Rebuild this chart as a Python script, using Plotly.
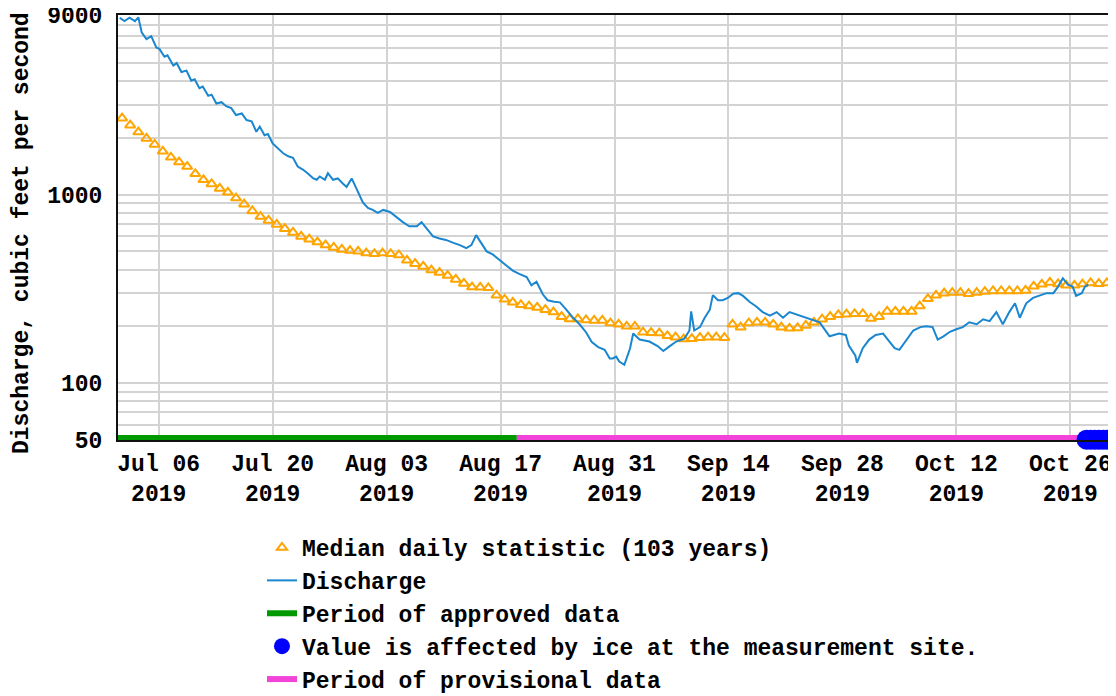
import math
import pandas as pd
import plotly.graph_objects as go

# ---------------- DATA ----------------
# Median daily statistic (103 years), one value per day starting 2019-07-01 (plotted at noon)
median_first_day = "2019-07-01 12:00"
median_cfs = [
    2550, 2340, 2150, 1990, 1850, 1700, 1580, 1490, 1410, 1290,
    1200, 1140, 1080, 1030, 960, 890, 820, 765, 730, 695,
    660, 630, 600, 580, 560, 540, 525, 512, 505, 500,
    490, 485, 490, 485, 478, 448, 430, 416, 398, 386,
    372, 355, 338, 323, 322, 320, 292, 278, 268, 260,
    256, 252, 245, 238, 225, 219, 219, 216, 215, 215,
    208, 205, 200, 200, 186, 185, 184, 178, 175, 171,
    172, 174, 175, 175, 174, 205, 198, 208, 210, 210,
    205, 198, 195, 196, 202, 210, 218, 225, 230, 232,
    233, 233, 220, 225, 240, 240, 240, 240, 256, 280,
    292, 300, 302, 302, 298, 302, 306, 308, 308, 308,
    308, 310, 326, 334, 342, 336, 330, 330, 335, 340,
    337, 340,
]
median_dates = pd.date_range(median_first_day, periods=len(median_cfs), freq="D")

# Discharge (cubic feet per second)
discharge_time = [
    "2019-07-01 05:00", "2019-07-01 19:00", "2019-07-02 10:00", "2019-07-03 02:00",
    "2019-07-03 12:00", "2019-07-03 22:00", "2019-07-04 12:00", "2019-07-05 02:00",
    "2019-07-05 17:00", "2019-07-06 02:00", "2019-07-06 17:00", "2019-07-07 02:00",
    "2019-07-07 19:00", "2019-07-08 05:00", "2019-07-08 19:00", "2019-07-09 10:00",
    "2019-07-10 00:00", "2019-07-10 10:00", "2019-07-11 00:00", "2019-07-11 10:00",
    "2019-07-12 02:00", "2019-07-12 12:00", "2019-07-13 02:00", "2019-07-13 17:00",
    "2019-07-14 07:00", "2019-07-14 22:00", "2019-07-15 12:00", "2019-07-16 05:00",
    "2019-07-16 19:00", "2019-07-17 10:00", "2019-07-18 00:00", "2019-07-18 10:00",
    "2019-07-19 00:00", "2019-07-19 10:00", "2019-07-20 00:00", "2019-07-20 17:00",
    "2019-07-21 07:00", "2019-07-21 22:00", "2019-07-22 12:00", "2019-07-23 02:00",
    "2019-07-23 17:00", "2019-07-24 07:00", "2019-07-25 00:00", "2019-07-25 10:00",
    "2019-07-25 19:00", "2019-07-26 10:00", "2019-07-26 19:00", "2019-07-27 10:00",
    "2019-07-28 00:00", "2019-07-28 14:00", "2019-07-29 02:00", "2019-07-29 17:00",
    "2019-07-30 02:00", "2019-07-30 14:00", "2019-07-31 02:00", "2019-07-31 17:00",
    "2019-08-01 07:00", "2019-08-01 22:00", "2019-08-02 14:00", "2019-08-03 10:00",
    "2019-08-04 05:00", "2019-08-05 00:00", "2019-08-05 19:00", "2019-08-06 17:00",
    "2019-08-07 07:00", "2019-08-07 22:00", "2019-08-08 17:00", "2019-08-09 12:00",
    "2019-08-10 07:00", "2019-08-11 05:00", "2019-08-12 00:00", "2019-08-12 19:00",
    "2019-08-13 10:00", "2019-08-14 00:00", "2019-08-14 14:00", "2019-08-15 07:00",
    "2019-08-16 02:00", "2019-08-16 22:00", "2019-08-17 17:00", "2019-08-18 12:00",
    "2019-08-19 07:00", "2019-08-20 05:00", "2019-08-20 19:00", "2019-08-21 10:00",
    "2019-08-22 05:00", "2019-08-22 19:00", "2019-08-23 14:00", "2019-08-24 07:00",
    "2019-08-24 22:00", "2019-08-25 22:00", "2019-08-26 17:00", "2019-08-27 12:00",
    "2019-08-28 05:00", "2019-08-29 00:00", "2019-08-29 19:00", "2019-08-30 10:00",
    "2019-08-30 19:00", "2019-08-31 05:00", "2019-08-31 14:00", "2019-09-01 05:00",
    "2019-09-01 22:00", "2019-09-02 07:00", "2019-09-03 02:00", "2019-09-04 07:00",
    "2019-09-05 07:00", "2019-09-06 00:00", "2019-09-06 19:00", "2019-09-07 14:00",
    "2019-09-08 14:00", "2019-09-09 05:00", "2019-09-09 10:00", "2019-09-09 19:00",
    "2019-09-10 12:00", "2019-09-11 02:00", "2019-09-11 17:00", "2019-09-12 02:00",
    "2019-09-12 17:00", "2019-09-13 07:00", "2019-09-13 22:00", "2019-09-14 14:00",
    "2019-09-15 05:00", "2019-09-15 19:00", "2019-09-16 14:00", "2019-09-17 10:00",
    "2019-09-18 05:00", "2019-09-19 02:00", "2019-09-19 22:00", "2019-09-20 17:00",
    "2019-09-21 12:00", "2019-09-22 17:00", "2019-09-24 00:00", "2019-09-25 05:00",
    "2019-09-26 10:00", "2019-09-27 14:00", "2019-09-28 10:00", "2019-09-28 19:00",
    "2019-09-29 14:00", "2019-09-29 19:00", "2019-09-30 12:00", "2019-10-01 07:00",
    "2019-10-02 02:00", "2019-10-03 00:00", "2019-10-03 14:00", "2019-10-04 10:00",
    "2019-10-05 00:00", "2019-10-05 22:00", "2019-10-06 17:00", "2019-10-07 14:00",
    "2019-10-08 07:00", "2019-10-09 02:00", "2019-10-09 17:00", "2019-10-10 10:00",
    "2019-10-11 05:00", "2019-10-12 00:00", "2019-10-12 19:00", "2019-10-13 14:00",
    "2019-10-14 12:00", "2019-10-15 07:00", "2019-10-16 02:00", "2019-10-16 22:00",
    "2019-10-17 17:00", "2019-10-18 12:00", "2019-10-19 05:00", "2019-10-19 19:00",
    "2019-10-20 14:00", "2019-10-21 10:00", "2019-10-22 05:00", "2019-10-23 02:00",
    "2019-10-23 22:00", "2019-10-24 12:00", "2019-10-25 02:00", "2019-10-25 17:00",
    "2019-10-26 07:00", "2019-10-26 17:00", "2019-10-27 10:00", "2019-10-27 19:00",
    "2019-10-28 05:00",
]
discharge_cfs = [
    8700, 8350, 8700, 8350,
    8750, 7250, 6700, 6950,
    6050, 5950, 5400, 5500,
    4850, 5000, 4480, 4560,
    4030, 4100, 3680, 3750,
    3350, 3400, 3050, 3100,
    2950, 2880, 2650, 2700,
    2490, 2450, 2160, 2300,
    2070, 2100, 1870, 1760,
    1660, 1600, 1570, 1410,
    1360, 1300, 1220, 1200,
    1250, 1200, 1300, 1200,
    1220, 1150, 1100, 1220,
    1130, 1000, 910, 850,
    830, 800, 830, 810,
    760, 715, 680, 680,
    715, 665, 600, 585,
    575, 555, 540, 520,
    540, 610, 555, 500,
    480, 450, 420, 395,
    380, 365, 330, 345,
    295, 275, 270, 268,
    250, 222, 205, 186,
    165, 155, 150, 135,
    135, 138, 130, 125,
    153, 183, 170, 166,
    157, 148, 157, 166,
    172, 190, 240, 190,
    198, 222, 245, 293,
    275, 275, 283, 298,
    300, 290, 270, 255,
    238, 228, 238, 222,
    238, 228, 218, 210,
    177, 183, 180, 158,
    140, 128, 153, 170,
    180, 183, 170, 153,
    150, 170, 190, 198,
    200, 198, 170, 177,
    187, 193, 198, 210,
    205, 218, 213, 238,
    205, 238, 265, 222,
    265, 283, 290, 300,
    300, 325, 360, 333,
    325, 290, 300, 325,
    333,
]

# Values affected by ice (flag markers drawn on the bottom of the chart)
ice_time = ["2019-10-28 00:00", "2019-10-28 12:00", "2019-10-29 00:00", "2019-10-29 12:00",
            "2019-10-30 00:00", "2019-10-30 12:00", "2019-10-30 23:00"]
ice_flag_cfs = [50, 50, 50, 50, 50, 50, 50]

# Data-approval periods
approved_period = ["2019-07-01", "2019-08-19"]
provisional_period = ["2019-08-19", "2019-10-31"]

# Axis ticks
x_range = ["2019-07-01", "2019-10-31"]
tick_dates = ["2019-07-06", "2019-07-20", "2019-08-03", "2019-08-17", "2019-08-31",
              "2019-09-14", "2019-09-28", "2019-10-12", "2019-10-26"]
tick_labels = ["Jul 06<br>2019", "Jul 20<br>2019", "Aug 03<br>2019", "Aug 17<br>2019",
               "Aug 31<br>2019", "Sep 14<br>2019", "Sep 28<br>2019", "Oct 12<br>2019",
               "Oct 26<br>2019"]
y_tick_vals = [50, 100, 1000, 9000]
y_tick_labels = ["50", "100", "1000", "9000"]
y_minor_vals = [60, 70, 80, 90, 200, 300, 400, 500, 600, 700, 800, 900,
                2000, 3000, 4000, 5000, 6000, 7000, 8000]
y_min, y_max = 49.8, 9000
y_title = "Discharge, cubic feet per second"

# ---------------- STYLE ----------------
FONT = "Liberation Mono"
ORANGE = "#ffa500"
BLUE = "#1a86cf"
GREEN = "#009a00"
PINK = "#f244d9"
ICE = "#0000ff"
GRID = "#d3d3d3"
BAR_LEVEL = 51  # period bars drawn along the bottom of the plot

fig = go.Figure()

fig.add_trace(go.Scatter(
    x=median_dates, y=median_cfs, mode="markers",
    name="Median daily statistic (103 years)",
    marker=dict(symbol="triangle-up-open", size=9, color=ORANGE, line=dict(width=2, color=ORANGE)),
    legendgroup="g1", legendrank=1,
))
fig.add_trace(go.Scatter(
    x=discharge_time, y=discharge_cfs, mode="lines", name="Discharge",
    line=dict(color=BLUE, width=2), legendgroup="g2", legendrank=2,
))
fig.add_trace(go.Scatter(
    x=approved_period, y=[BAR_LEVEL] * len(approved_period), mode="lines",
    name="Period of approved data", line=dict(color=GREEN, width=6),
    legendgroup="g3", legendrank=3,
))
fig.add_trace(go.Scatter(
    x=provisional_period, y=[BAR_LEVEL] * len(provisional_period), mode="lines",
    name="Period of provisional data", line=dict(color=PINK, width=6),
    legendgroup="g5", legendrank=5,
))
fig.add_trace(go.Scatter(
    x=ice_time, y=ice_flag_cfs, mode="markers",
    name="Value is affected by ice at the measurement site.",
    marker=dict(symbol="circle", size=20, color=ICE), cliponaxis=False,
    legendgroup="g4", legendrank=4,
))

tick_font = dict(family=FONT, size=23, color="black", weight="bold")

# The page places the figure 8 px from the window's top-left corner,
# so the figure is 8 px smaller than the window and margins are offset.
fig.update_layout(
    width=1108, height=688,
    margin=dict(l=110, r=5, t=7, b=256, autoexpand=False),
    paper_bgcolor="white", plot_bgcolor="white",
    showlegend=True,
    legend=dict(
        x=0.145, y=-0.2024, xanchor="left", yanchor="top",
        font=dict(family=FONT, size=23, color="black", weight="bold"),
        tracegroupgap=0, bgcolor="rgba(0,0,0,0)",
    ),
    xaxis=dict(
        type="date", range=x_range,
        tickmode="array", tickvals=tick_dates, ticktext=tick_labels,
        showgrid=True, gridcolor=GRID, gridwidth=2,
        showline=True, linecolor="#111", linewidth=2, mirror=True,
        ticks="", tickfont=tick_font, automargin=False, zeroline=False,
        ticklabelstandoff=1, ticklabeloverflow="allow",
    ),
    yaxis=dict(
        type="log", range=[math.log10(y_min), math.log10(y_max)],
        tickmode="array", tickvals=y_tick_vals, ticktext=y_tick_labels,
        showgrid=True, gridcolor=GRID, gridwidth=2,
        minor=dict(tickmode="array", tickvals=y_minor_vals, showgrid=True,
                   gridcolor=GRID, gridwidth=2, ticks=""),
        showline=True, linecolor="#111", linewidth=2, mirror=True,
        ticks="", tickfont=tick_font, automargin=False, zeroline=False,
        ticklabelstandoff=9, ticklabeloverflow="allow",
    ),
    annotations=[dict(
        text=y_title, textangle=-90, showarrow=False,
        xref="paper", yref="paper", x=-0.0967, y=0.487,
        xanchor="center", yanchor="middle",
        font=dict(family=FONT, size=23, color="black", weight="bold"),
    )],
)

fig.write_html("out.html")
